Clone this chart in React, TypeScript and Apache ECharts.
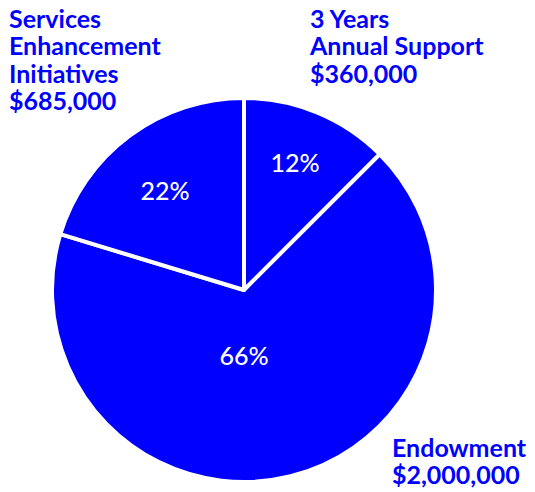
import React, { useEffect, useRef } from "react";
import * as echarts from "echarts";

const categories = ["3 Years Annual Support", "Endowment", "Services Enhancement Initiatives"];
const amounts = ["$360,000", "$2,000,000", "$685,000"];
const percentLabels = ["12%", "66%", "22%"];
// slice shares
const shares = [12.5, 67.2, 20.3];
const outerLabelLines = [
  ["3 Years", "Annual Support", amounts[0]],
  ["Endowment", amounts[1]],
  ["Services", "Enhancement", "Initiatives", amounts[2]],
];

const BLUE = "#0000FF";
const FONT = "Lato, 'DejaVu Sans', sans-serif";

export default function App() {
  const ref = useRef<HTMLDivElement>(null);
  useEffect(() => {
    if (!ref.current) return;
    const chart = echarts.init(ref.current, null, { renderer: "svg" });
    const labelPos = [
      { left: 310, top: 4 },
      { left: 392, top: 433 },
      { left: 9, top: 4 },
    ];
    const innerPos = [
      [295, 162],
      [244, 355],
      [165, 190],
    ];
    chart.setOption({
      animation: false,
      backgroundColor: "#ffffff",
      series: [
        {
          type: "pie",
          center: [244, 290],
          radius: [0, 192],
          startAngle: 90,
          clockwise: true,
          silent: true,
          itemStyle: { color: BLUE, borderColor: "#ffffff", borderWidth: 4 },
          label: {
            show: true,
            position: "inner",
            color: "#ffffff",
            fontFamily: FONT,
            fontSize: 25,
            fontWeight: 500,
            formatter: (p: any) => percentLabels[p.dataIndex],
          },
          labelLayout: (p: any) => ({
            x: innerPos[p.dataIndex][0],
            y: innerPos[p.dataIndex][1],
            align: "center",
            verticalAlign: "middle",
          }),
          labelLine: { show: false },
          data: categories.map((name, i) => ({ name, value: shares[i] })),
        },
      ],
      graphic: outerLabelLines.map((lines, i) => ({
        type: "text",
        left: labelPos[i].left,
        top: labelPos[i].top,
        style: {
          text: lines.join("\n"),
          fill: BLUE,
          font: `bold 25px ${FONT}`,
          lineHeight: 27.5,
          textAlign: "left",
        },
      })),
    });
    return () => chart.dispose();
  }, []);
  return (
    <div
      ref={ref}
      style={{ position: "fixed", left: 0, top: 0, width: 535, height: 492 }}
    />
  );
}
